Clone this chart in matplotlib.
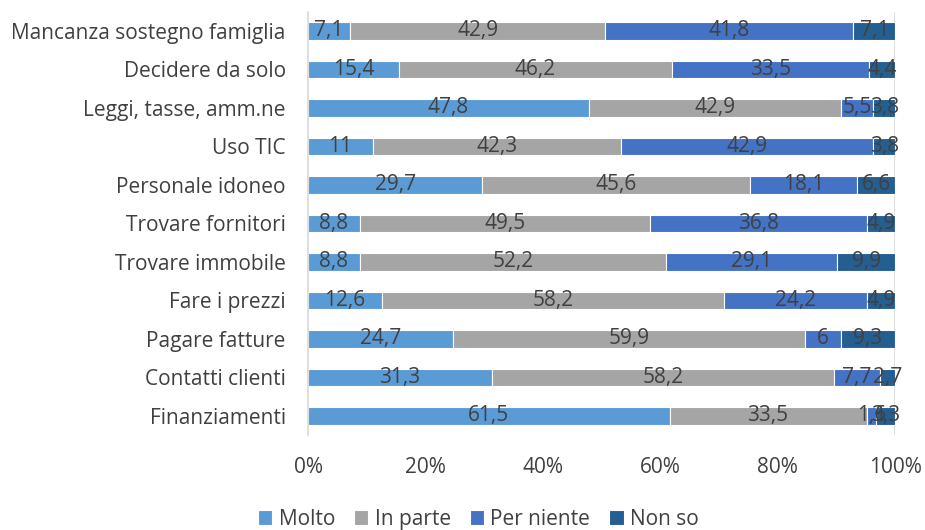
import matplotlib
matplotlib.use("Agg")
import matplotlib.pyplot as plt
import numpy as np

categories = ["Mancanza sostegno famiglia", "Decidere da solo", "Leggi, tasse, amm.ne",
              "Uso TIC", "Personale idoneo", "Trovare fornitori", "Trovare immobile",
              "Fare i prezzi", "Pagare fatture", "Contatti clienti", "Finanziamenti"]
series_names = ["Molto", "In parte", "Per niente", "Non so"]
molto = [7.1, 15.4, 47.8, 11, 29.7, 8.8, 8.8, 12.6, 24.7, 31.3, 61.5]
in_parte = [42.9, 46.2, 42.9, 42.3, 45.6, 49.5, 52.2, 58.2, 59.9, 58.2, 33.5]
per_niente = [41.8, 33.5, 5.5, 42.9, 18.1, 36.8, 29.1, 24.2, 6, 7.7, 1.6]
non_so = [7.1, 4.4, 3.8, 3.8, 6.6, 4.9, 9.9, 4.9, 9.3, 2.7, 3.3]
colors = ["#5B9BD5", "#A5A5A5", "#4472C4", "#255E91"]

plt.rcParams['font.family'] = ['Open Sans', 'DejaVu Sans']
fig = plt.figure(figsize=(9.25, 5.3), dpi=100)
ax = fig.add_axes([0.333, 0.179, 0.635, 0.799])

data = np.array([molto, in_parte, per_niente, non_so], dtype=float)
totals = data.sum(axis=0)
frac = data / totals
y = np.arange(len(categories))
left = np.zeros(len(categories))
for i, name in enumerate(series_names):
    ax.barh(y, frac[i], left=left, height=0.45, color=colors[i],
            edgecolor="white", linewidth=0.8, label=name, zorder=2)
    for j in range(len(categories)):
        ax.text(left[j] + frac[i][j] / 2, y[j], f"{data[i][j]:g}".replace(".", ","),
                ha="center", va="center", fontsize=15, color="#404040", zorder=3)
    left += frac[i]

ax.set_ylim(len(categories) - 0.5, -0.5)
ax.set_xlim(0, 1)
ax.set_yticks(y)
ax.set_yticklabels(categories, fontsize=15, color="#404040")
ax.set_xticks(np.linspace(0, 1, 6))
ax.set_xticklabels([f"{int(v)}%" for v in np.linspace(0, 100, 6)], fontsize=15, color="#404040")
ax.tick_params(axis="both", length=0)
ax.tick_params(axis="x", pad=16)
ax.tick_params(axis="y", pad=16)
for s in ["top", "right", "bottom"]:
    ax.spines[s].set_visible(False)
ax.spines["left"].set_color("#D9D9D9")
ax.spines["left"].set_linewidth(1.2)
ax.axvline(1.0, color="#D9D9D9", linewidth=1.2, zorder=1)

fig.legend(loc="lower center", bbox_to_anchor=(0.517, -0.035), ncol=4, frameon=False,
           fontsize=15, handlelength=0.7, handleheight=0.7, handletextpad=0.3,
           columnspacing=0.9, labelcolor="#404040")

fig.savefig("out.png", dpi=100)
